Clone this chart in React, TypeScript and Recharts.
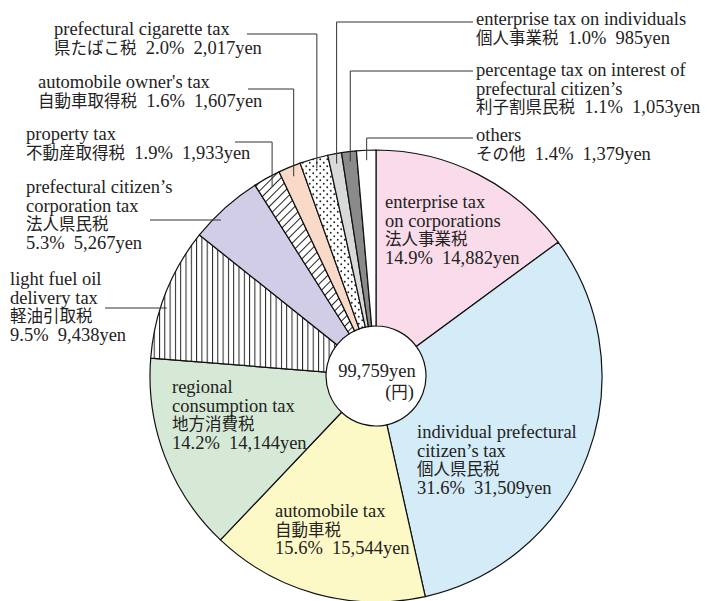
import React from 'react';
import { PieChart, Pie, Cell } from 'recharts';

// slices, clockwise from 12 o'clock
const namesEn = [
  ['enterprise tax', 'on corporations'],
  ['individual prefectural', 'citizen’s tax'],
  ['automobile tax'],
  ['regional', 'consumption tax'],
  ['light fuel oil', 'delivery tax'],
  ['prefectural citizen’s', 'corporation tax'],
  ['property tax'],
  ["automobile owner's tax"],
  ['prefectural cigarette tax'],
  ['enterprise tax on individuals'],
  ['percentage tax on interest of', 'prefectural citizen’s'],
  ['others'],
];
const namesJa = [
  '法人事業税', '個人県民税', '自動車税', '地方消費税', '軽油引取税', '法人県民税',
  '不動産取得税', '自動車取得税', '県たばこ税', '個人事業税', '利子割県民税', 'その他',
];
const amounts = [14882, 31509, 15544, 14144, 9438, 5267, 1933, 1607, 2017, 985, 1053, 1379];
const shares = [14.9, 31.6, 15.6, 14.2, 9.5, 5.3, 1.9, 1.6, 2.0, 1.0, 1.1, 1.4];
const totalLabel = '99,759yen';
const unitLabel = '(円)';

const fills = [
  '#f9dbe9', '#d4ebf8', '#fdf9c6', '#d6e9d6', 'url(#vhatch)', '#d1cde6',
  'url(#dhatch)', '#f9dac8', 'url(#dots)', '#d8d9da', '#8a8a8a', '#ffffff',
];

// where each label sits; leader = how it points at its slice
const labelLayout: any[] = [
  { x: 385, y: 208, inline: false },
  { x: 417, y: 438, inline: false },
  { x: 275, y: 517, inline: false },
  { x: 172, y: 393, inline: false },
  { x: 10, y: 285, inline: false, leader: 'h', lx: 105, ly: 308 },
  { x: 26, y: 193, inline: false, leader: 'h', lx: 150, ly: 220 },
  { x: 26, y: 140, inline: true, leader: 'elbow', lx: 235, ly: 142 },
  { x: 38, y: 88, inline: true, leader: 'elbow', lx: 248, ly: 89 },
  { x: 54, y: 35, inline: true, leader: 'elbow', lx: 247, ly: 34 },
  { x: 476, y: 25, inline: true, leader: 'elbow', lx: 473, ly: 22 },
  { x: 476, y: 76, inline: true, leader: 'elbow', lx: 473, ly: 71 },
  { x: 476, y: 141, inline: true, leader: 'elbow', lx: 473, ly: 138 },
];

const data = namesJa.map((name, i) => ({ name, value: amounts[i] }));

const FONT = '"Liberation Serif", "Noto Sans CJK JP", serif';
const LINE = 18.7;
const CJK = /([\u3000-\u9fff\uff00-\uffef]+)/;

const runs = (s: string) =>
  s.split(CJK).filter(Boolean).map((part, i) =>
    CJK.test(part)
      ? <tspan key={i} fontSize={16.5}>{part}</tspan>
      : <tspan key={i}>{part}</tspan>
  );

const valueText = (i: number) => `${shares[i].toFixed(1)}%  ${amounts[i].toLocaleString('en-US')}yen`;

const RAD = Math.PI / 180;

const renderLabel = (props: any) => {
  const { cx, cy, midAngle, outerRadius, index } = props;
  const layout = labelLayout[index];
  const lines = layout.inline
    ? [...namesEn[index], `${namesJa[index]}  ${valueText(index)}`]
    : [...namesEn[index], namesJa[index], valueText(index)];

  let leader = null;
  if (layout.leader === 'h') {
    const dy = layout.ly - cy;
    const r = outerRadius - 6;
    const ex = cx - Math.sqrt(r * r - dy * dy);
    leader = <path d={`M${layout.lx},${layout.ly}H${ex}`} stroke="#333" strokeWidth={1} fill="none" />;
  } else if (layout.leader === 'elbow') {
    const vx = cx + (outerRadius - 11) * Math.cos(-midAngle * RAD);
    const r = outerRadius - 10;
    const ey = cy - Math.sqrt(r * r - (vx - cx) * (vx - cx));
    leader = <path d={`M${layout.lx},${layout.ly}H${vx}V${ey}`} stroke="#333" strokeWidth={1} fill="none" />;
  }

  return (
    <g>
      {leader}
      {lines.map((line, k) => (
        <text
          key={k}
          x={layout.x}
          y={layout.y + k * LINE}
          fill="#222"
          fontSize={18.5}
          fontFamily={FONT}
          style={{ whiteSpace: 'pre' }}
        >
          {runs(line)}
        </text>
      ))}
    </g>
  );
};

export default function App() {
  return (
    <div style={{ position: 'absolute', left: 0, top: 0, width: 707, height: 601, background: '#fff' }}>
      <PieChart width={707} height={601} margin={{ top: 0, right: 0, bottom: 0, left: 0 }}>
        <defs>
          <pattern id="vhatch" width={5.3} height={10} patternUnits="userSpaceOnUse">
            <rect width={5.3} height={10} fill="#fff" />
            <line x1={0.5} y1={0} x2={0.5} y2={10} stroke="#222" strokeWidth={1} />
          </pattern>
          <pattern id="dhatch" width={6} height={6} patternUnits="userSpaceOnUse" patternTransform="rotate(45)">
            <rect width={6} height={6} fill="#fff" />
            <line x1={0.5} y1={0} x2={0.5} y2={6} stroke="#222" strokeWidth={1} />
          </pattern>
          <pattern id="dots" width={7} height={7} patternUnits="userSpaceOnUse">
            <rect width={7} height={7} fill="#fff" />
            <circle cx={1.75} cy={1.75} r={0.95} fill="#222" />
            <circle cx={5.25} cy={5.25} r={0.95} fill="#222" />
          </pattern>
        </defs>
        <Pie
          data={data}
          dataKey="value"
          cx={376}
          cy={376}
          outerRadius={226}
          innerRadius={50}
          startAngle={90}
          endAngle={-270}
          stroke="#111"
          strokeWidth={1.2}
          label={renderLabel}
          labelLine={false}
          isAnimationActive={false}
        >
          {data.map((d, i) => (
            <Cell key={d.name} fill={fills[i]} />
          ))}
        </Pie>
        <text x={377} y={377} textAnchor="middle" fontSize={18.5} fontFamily={FONT} fill="#222">
          {totalLabel}
        </text>
        <text x={414} y={398} textAnchor="end" fontSize={18.5} fontFamily={FONT} fill="#222">
          {runs(unitLabel)}
        </text>
      </PieChart>
    </div>
  );
}
